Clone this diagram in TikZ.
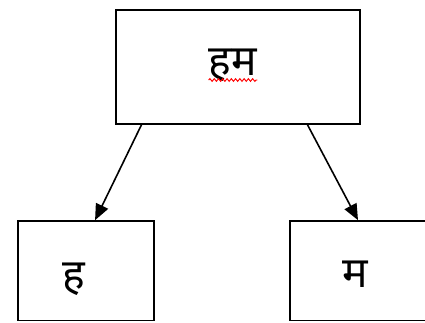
\documentclass[tikz,border=0pt]{standalone}
\usepackage{fontspec}
\newfontfamily\deva[Script=Devanagari]{Noto Sans}
\usetikzlibrary{arrows.meta,calc,decorations.pathmorphing}
\begin{document}
\begin{tikzpicture}[x=0.75pt,y=-0.75pt,
  box/.style={draw=black,line width=1.2pt,fill=white,minimum width=#1*0.75pt,inner sep=0pt},
  lbl/.style={anchor=base,inner sep=0pt,font=\deva\fontsize{32pt}{36pt}\selectfont},
  arr/.style={line width=1.2pt,-{Triangle[length=12pt,width=10pt]}},
  squig/.style={draw=red,line width=0.7pt,decorate,decoration={snake,amplitude=1pt,segment length=3.2pt}}]
\clip (0,0) rectangle (425,322);
\fill[white] (0,0) rectangle (425,322);
\node[box=244,minimum height=85.5pt] (top) at (238,67) {};
\node[box=136,minimum height=74.6pt] (left) at (86,270.7) {};
\node[box=136,minimum height=74.6pt] (right) at (358,270.7) {};
\node[lbl] (ttop) at (233,75) {हम};
\node[lbl] (tleft) at (74,289) {ह};
\node[lbl] (tright) at (355,287) {म};
\coordinate (sq1) at ($(ttop.base west)+(0,5)$);
\coordinate (sq2) at ($(ttop.base east)+(0,5)$);
\draw[squig] (sq1) -- (sq2);
\draw[arr] ($(top.south west)!0.107!(top.south east)$) -- ($(left.north west)!0.566!(left.north east)$);
\draw[arr] ($(top.south west)!0.783!(top.south east)$) -- (right.north);
\end{tikzpicture}
\end{document}
